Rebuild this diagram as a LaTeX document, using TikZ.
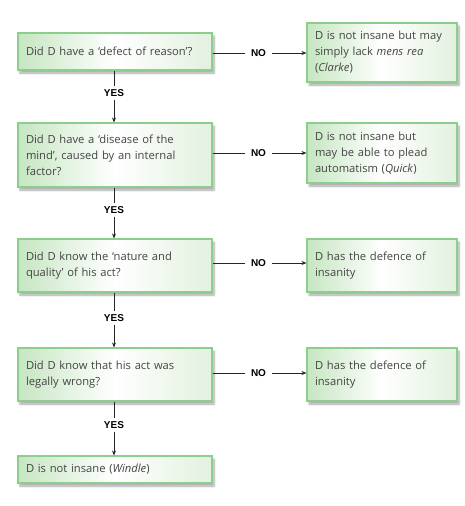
\documentclass[tikz,border=0pt]{standalone}
\usepackage{fontspec}
\setmainfont{Open Sans}
\newfontfamily\labfont{Liberation Sans}
\usetikzlibrary{arrows.meta,shadows.blur}
\definecolor{gA}{HTML}{C6E6C1}
\definecolor{gB}{HTML}{E2F1DF}
\definecolor{gBorder}{HTML}{8CCF8C}
\definecolor{txt}{HTML}{454545}
\begin{document}
\begin{tikzpicture}[x=1pt,y=-1pt,
 box/.style={draw=gBorder, line width=1.1pt, left color=gA, right color=gB, middle color=white,
   blur shadow={shadow xshift=2pt, shadow yshift=-3pt, shadow blur steps=6, shadow opacity=35},
   inner xsep=8pt, inner ysep=0pt, align=left, text=txt,
   font=\fontsize{11.2}{16}\selectfont},
 qbox/.style={box, minimum width=194pt, text width=178pt},
 abox/.style={box, minimum width=150pt, text width=134pt},
 ylab/.style={font=\labfont\bfseries\fontsize{10}{12}\selectfont, inner xsep=0pt, inner ysep=3pt},
 nlab/.style={font=\labfont\bfseries\fontsize{10}{12}\selectfont, inner xsep=6pt, inner ysep=0pt},
 conn/.style={line width=0.6pt, draw=black!85},
 arr/.style={conn, -{Stealth[length=5pt,width=4pt]}}
]
\useasboundingbox (0,0) rectangle (465,506);
% questions
\node[qbox, minimum height=37pt] (q1) at (115,51.5) {Did D have a ‘defect of reason’?};
\node[qbox, minimum height=64pt] (q2) at (115,155) {Did D have a ‘disease of the\\ mind’, caused by an internal\\ factor?};
\node[qbox, minimum height=53pt] (q3) at (115,265.5) {Did D know the ‘nature and\\ quality’ of his act?};
\node[qbox, minimum height=53pt] (q4) at (115,374.5) {Did D know that his act was\\ legally wrong?};
\node[qbox, minimum height=27pt] (q5) at (115,469.5) {D is not insane (\textit{Windle})};
% outcomes
\node[abox, minimum height=59pt] (r1) at (382,52.5) {D is not insane but may\\ simply lack \textit{mens rea}\\ (\textit{Clarke})};
\node[abox, minimum height=60pt] (r2) at (382,153) {D is not insane but\\ may be able to plead\\ automatism (\textit{Quick})};
\node[abox, minimum height=53pt] (r3) at (382,265.5) {D has the defence of\\ insanity};
\node[abox, minimum height=53pt] (r4) at (382,374.5) {D has the defence of\\ insanity};
% YES labels
\node[ylab] (y1) at (114,93) {YES};
\node[ylab] (y2) at (114,210) {YES};
\node[ylab] (y3) at (114,318) {YES};
\node[ylab] (y4) at (114,425) {YES};
% NO labels
\node[nlab] (n1) at (258.5,53) {NO};
\node[nlab] (n2) at (258.5,153) {NO};
\node[nlab] (n3) at (258.5,263) {NO};
\node[nlab] (n4) at (258.5,373) {NO};
% vertical connectors
\draw[conn] (y1 |- q1.south) -- (y1.north);
\draw[arr] (y1.south) -- (y1 |- q2.north);
\draw[conn] (y2 |- q2.south) -- (y2.north);
\draw[arr] (y2.south) -- (y2 |- q3.north);
\draw[conn] (y3 |- q3.south) -- (y3.north);
\draw[arr] (y3.south) -- (y3 |- q4.north);
\draw[conn] (y4 |- q4.south) -- (y4.north);
\draw[arr] (y4.south) -- (y4 |- q5.north);
% horizontal connectors
\draw[conn] (q1.east |- n1) -- (n1.west);
\draw[arr] (n1.east) -- (r1.west |- n1);
\draw[conn] (q2.east |- n2) -- (n2.west);
\draw[arr] (n2.east) -- (r2.west |- n2);
\draw[conn] (q3.east |- n3) -- (n3.west);
\draw[arr] (n3.east) -- (r3.west |- n3);
\draw[conn] (q4.east |- n4) -- (n4.west);
\draw[arr] (n4.east) -- (r4.west |- n4);
\end{tikzpicture}
\end{document}
